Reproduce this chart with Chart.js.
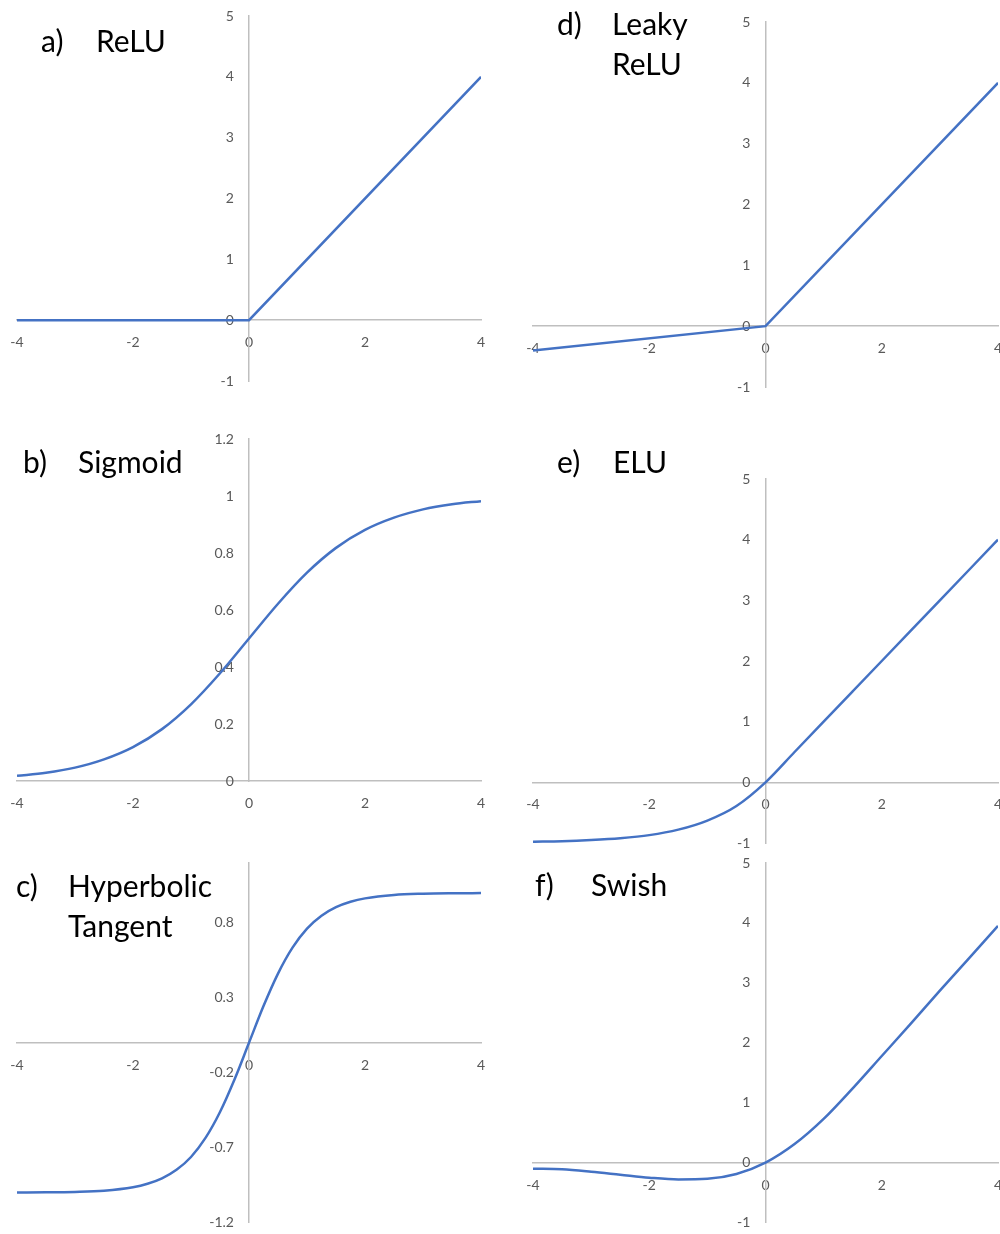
<!DOCTYPE html>
<html>
<head>
<meta charset="utf-8">
<script src="https://cdn.jsdelivr.net/npm/chart.js@4.4.1/dist/chart.umd.min.js"></script>
<style>
  html, body { margin: 0; padding: 0; background: #fff; overflow: hidden; }
  body { width: 1000px; height: 1234px; position: relative; }
  canvas { position: absolute; }
  .title { position: absolute; font-family: Lato, sans-serif; font-size: 30px; line-height: 40px; color: #000; z-index: 2; white-space: nowrap; }
</style>
</head>
<body>
<script>
// sample points (x) used by the smooth curves
const xValues = [-4, -3.5, -3, -2.5, -2, -1.5, -1, -0.5, 0, 0.5, 1, 1.5, 2, 2.5, 3, 3.5, 4];
// tanh bends sharply, so it is read at a finer step near the middle
const tanhX = [-4, -3.5, -3, -2.5, -2, -1.75, -1.5, -1.25, -1, -0.75, -0.5, -0.25, 0,
               0.25, 0.5, 0.75, 1, 1.25, 1.5, 1.75, 2, 2.5, 3, 3.5, 4];

const reluX = [-4, 0, 4];
const reluY = [0, 0, 4];
const leakyX = [-4, 0, 4];
const leakyY = [-0.4, 0, 4];
const sigmoidY = [0.018, 0.029, 0.047, 0.076, 0.119, 0.182, 0.269, 0.378, 0.5, 0.622, 0.731, 0.818, 0.881, 0.924, 0.953, 0.971, 0.982];
const tanhY = [-0.999, -0.998, -0.995, -0.987, -0.964, -0.941, -0.905, -0.848, -0.762, -0.635, -0.462, -0.245, 0,
               0.245, 0.462, 0.635, 0.762, 0.848, 0.905, 0.941, 0.964, 0.987, 0.995, 0.998, 0.999];
const eluY = [-0.98, -0.97, -0.95, -0.92, -0.87, -0.78, -0.63, -0.39, 0, 0.5, 1, 1.5, 2, 2.5, 3, 3.5, 4];
const swishY = [-0.1, -0.11, -0.15, -0.2, -0.25, -0.28, -0.27, -0.19, 0, 0.31, 0.73, 1.24, 1.78, 2.32, 2.87, 3.41, 3.95];

// tick labels
const xTicks = [-4, -2, 0, 2, 4];
const unitTicks = [-1, 0, 1, 2, 3, 4, 5];
const sigmoidTicks = [0, 0.2, 0.4, 0.6, 0.8, 1, 1.2];
const tanhTicks = [-1.2, -0.7, -0.2, 0.3, 0.8];

const lineColor = '#4472C4';
const axisColor = '#bfbfbf';
const labelColor = '#595959';
const tickFont = { family: 'Lato, sans-serif', size: 14 };

const panels = [
    { letter: 'a)', name: ['ReLU'], xs: reluX, ys: reluY, yTicks: unitTicks, yMin: -1, yMax: 5, smooth: false,
      col: 0, plot: [17, 16, 481, 381], titleTop: 20, letterLeft: 41, nameLeft: 96 },
    { letter: 'b)', name: ['Sigmoid'], xs: xValues, ys: sigmoidY, yTicks: sigmoidTicks, yMin: 0, yMax: 1.2, smooth: true,
      col: 0, plot: [17, 439, 481, 781], titleTop: 441, letterLeft: 23, nameLeft: 78 },
    { letter: 'c)', name: ['Hyperbolic', 'Tangent'], xs: tanhX, ys: tanhY, yTicks: tanhTicks, yMin: -1.2, yMax: 1.2, smooth: true,
      col: 0, plot: [17, 863, 481, 1227], titleTop: 865, letterLeft: 16, nameLeft: 68 },
    { letter: 'd)', name: ['Leaky', 'ReLU'], xs: leakyX, ys: leakyY, yTicks: unitTicks, yMin: -1, yMax: 5, smooth: false,
      col: 500, plot: [533, 22, 998, 387], titleTop: 3, letterLeft: 557, nameLeft: 612 },
    { letter: 'e)', name: ['ELU'], xs: xValues, ys: eluY, yTicks: unitTicks, yMin: -1, yMax: 5, smooth: true,
      col: 500, plot: [533, 479, 998, 843], titleTop: 441, letterLeft: 557, nameLeft: 613 },
    { letter: 'f)', name: ['Swish'], xs: xValues, ys: swishY, yTicks: unitTicks, yMin: -1, yMax: 5, smooth: true,
      col: 500, plot: [533, 863, 998, 1227], titleTop: 864, letterLeft: 535, nameLeft: 591 }
];

function setTicks(values) {
    return function (scale) {
        scale.ticks = values.map(v => ({ value: v }));
    };
}

panels.forEach(function (p) {
    var x0 = p.plot[0], y0 = p.plot[1], x1 = p.plot[2], y1 = p.plot[3];
    var top = Math.max(0, y0 - 20);
    var bottom = Math.min(1234, y1 + 30);
    var width = 530; // right column runs past the page edge, like the cut "4"

    var canvas = document.createElement('canvas');
    canvas.width = width;
    canvas.height = bottom - top;
    canvas.style.left = p.col + 'px';
    canvas.style.top = top + 'px';
    document.body.appendChild(canvas);

    new Chart(canvas.getContext('2d'), {
        type: 'line',
        data: {
            datasets: [{
                data: p.xs.map((x, i) => ({ x: x, y: p.ys[i] })),
                borderColor: lineColor,
                borderWidth: 2.5,
                pointRadius: 0,
                fill: false,
                cubicInterpolationMode: p.smooth ? 'monotone' : 'default',
                tension: 0
            }]
        },
        options: {
            responsive: false,
            animation: false,
            layout: { padding: { left: x0 - p.col, right: p.col + width - x1, top: y0 - top, bottom: bottom - y1 } },
            plugins: { legend: { display: false }, tooltip: { enabled: false } },
            scales: {
                x: {
                    type: 'linear', min: -4, max: 4,
                    position: { y: 0 },
                    grid: { display: false },
                    border: { color: axisColor, width: 1.5 },
                    afterBuildTicks: setTicks(xTicks),
                    ticks: { font: tickFont, color: labelColor, padding: 6, maxRotation: 0, autoSkip: false,
                             callback: v => String(v) }
                },
                // vertical axis line through x = 0
                y: {
                    type: 'linear', min: p.yMin, max: p.yMax,
                    position: { x: 0 },
                    grid: { display: false },
                    border: { color: axisColor, width: 1.5 },
                    afterBuildTicks: setTicks(p.yTicks),
                    ticks: { display: false }
                },
                // its labels, set a little left of the line
                yLabels: {
                    axis: 'y', type: 'linear', min: p.yMin, max: p.yMax,
                    position: { x: -0.26 },
                    grid: { display: false },
                    border: { display: false },
                    afterBuildTicks: setTicks(p.yTicks),
                    ticks: { font: tickFont, color: labelColor, autoSkip: false, callback: v => String(v) }
                }
            }
        }
    });

    var letter = document.createElement('div');
    letter.className = 'title';
    letter.style.left = p.letterLeft + 'px';
    letter.style.top = p.titleTop + 'px';
    letter.textContent = p.letter;
    document.body.appendChild(letter);

    var name = document.createElement('div');
    name.className = 'title';
    name.style.left = p.nameLeft + 'px';
    name.style.top = p.titleTop + 'px';
    name.innerHTML = p.name.join('<br>');
    document.body.appendChild(name);
});
</script>
</body>
</html>
